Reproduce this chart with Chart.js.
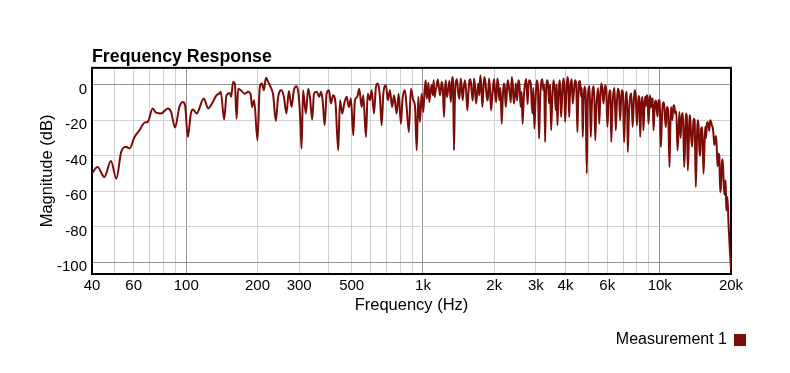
<!DOCTYPE html>
<html>
<head>
<meta charset="utf-8">
<script src="https://cdn.jsdelivr.net/npm/chart.js@4.4.1/dist/chart.umd.min.js"></script>
<style>
  html, body { margin: 0; padding: 0; background: #fff; }
  #wrap { width: 790px; height: 373px; }
</style>
</head>
<body>
<div id="wrap"><canvas id="c" width="790" height="373"></canvas></div>
<script>
// frequency response, [Hz, dB]
var lowBand = [
  [40, -50], [42.2, -46.4], [45.1, -52], [48.1, -43], [50.7, -53], [53.1, -38], [55.7, -35], [57.6, -36],
  [60.5, -29.5], [63.5, -25.7], [66.7, -21.4], [68.8, -21], [72.2, -13.5], [74.6, -15.8], [78.3, -16.3],
  [83.6, -13.5], [86.3, -15.4], [89.7, -24.2], [93.6, -12.6], [96.7, -9.8], [98.9, -11.7]
];
var midBand = [
  [101.6, -29.5], [104.9, -15.4], [107, -14.1], [110.5, -16.3], [118.7, -7.9], [123.8, -13.5], [129.2, -10.1],
  [134.3, -6], [137.7, -5.1], [140, -4.1], [144.6, -19.7], [148, -6], [152.9, -4.7], [154.7, -6.9], [157.8, 1.5],
  [160.5, 0.6], [163.2, -19.2], [165.8, -2.3], [171.3, -3.6], [177, -5.1], [182.7, -4.1], [187, -5.4],
  [189.8, -12.6], [193.6, -8.8], [200, -31.4], [204.6, -1.3], [208.8, 0.6], [212.9, -3.2], [217.1, 3.9],
  [221.9, 1.5], [227.2, -1.3], [233, -6], [239.1, -20.5], [244.5, -6.9], [252.7, -3.2], [258.5, -6.9],
  [265.1, -16.3], [271.3, -3.6], [278.6, -12.6], [284.9, -3.2], [292.6, -0.9], [299, -6.9], [304, -22.9],
  [307, -36], [311.6, -3.2], [320, -16.3], [327.5, -2.3], [333, -6.9], [340.6, -19.7], [346.5, -5.1],
  [355.6, -4.1], [364.6, -6.9], [370.7, -4.1], [376.8, -8.8], [384.3, -22.9], [391.8, -5.1], [400.8, -3.2],
  [408.5, -10.7], [417.5, -6], [427.3, -10.7], [438.7, -37], [446.1, -8.8], [456.1, -16.3], [465.1, -10.7],
  [475.9, -6.9], [486.6, -12.6], [496.2, -7.9], [507.5, -28.5], [516, -8.8], [527.7, -6.9], [538, -2.3],
  [550.8, -12.6], [559.5, -6], [574.5, -29.5], [584, -5.1], [597.2, -8.8], [607, -3.2], [621, -16.3],
  [633, -1.3], [645.6, 0.6], [658, -6.9], [669, -22.9], [680, -5.1], [697.4, -0.4], [711, -8.8], [725, -3.2],
  [741, -12.6], [755, -6], [774, -16.3], [789, -5.1], [807, -22], [820, -7.9], [839, -3.2], [853, -12.6],
  [872, -26.7], [889, -2.3], [910, -8.8], [925, -12], [941, -37], [955, -6.9], [971, -21], [987, -5.1]
];
var highBand = [
  [1003, -15.4], [1015, -4], [1027, 2.4], [1037, -8], [1047, -3.2], [1055, 1], [1063, -9.8], [1075, -4],
  [1088, -0.4], [1099, -6], [1110, 2.4], [1120, -7], [1131, -3.2], [1142, -1], [1154, 2.8], [1167, -1],
  [1180, -6], [1190, -3], [1200, 1.5], [1213, -2], [1227, -18.2], [1237, -5], [1247, 2.4], [1263, -7],
  [1279, -2.3], [1294, 2], [1310, -9.8], [1320, -3], [1330, 4.3], [1341, -1], [1352, -37], [1363, -10],
  [1374, 0.6], [1392, 3], [1410, -5.1], [1426, -8], [1443, 3.4], [1457, -1], [1471, -8.8], [1487, -2],
  [1504, 2.4], [1521, -3], [1539, -14.5], [1554, -6], [1569, 1.5], [1587, 3], [1606, -4.1], [1624, -9],
  [1643, 3.4], [1659, -1], [1675, -10.7], [1694, -5], [1713, 0.6], [1730, -6], [1747, 5.3], [1764, -1],
  [1781, -12.6], [1798, -4], [1816, 4.3], [1837, 1], [1859, -6.9], [1879, -9], [1900, 3.4], [1919, -2],
  [1939, -14.5], [1961, -7], [1983, 0.6], [1999, 3], [2016, -5.1], [2038, -10], [2061, 3.4], [2081, 0],
  [2102, -8.8], [2126, -2], [2150, -22], [2172, -8], [2194, 0.6], [2215, -1], [2236, -12.6], [2258, -6],
  [2280, 2.4], [2305, -1], [2330, -6], [2350, -10], [2370, 4.3], [2395, 0], [2420, -10.7], [2445, -6],
  [2470, 0.6], [2498, -9], [2527, 2.4], [2556, 0], [2585, -12.6], [2610, -4], [2635, -22], [2667, -7],
  [2700, 0.6], [2732, 3], [2765, -11], [2785, -3], [2806, 2.4], [2850, 1], [2897, -16.3], [2926, -2],
  [2955, -24.8], [2989, -9], [3023, 2.4], [3058, -1], [3093, -30.4], [3124, -8], [3155, 0.6], [3190, 3],
  [3225, -3.2], [3252, 0], [3280, -32.3], [3307, -6], [3335, 2.4], [3372, 1], [3410, -10.7], [3444, 0],
  [3478, -25.7], [3517, -8], [3556, 2.4], [3597, -2], [3638, -14.5], [3667, 0], [3697, -22.9], [3732, -7],
  [3768, 2.4], [3799, -1], [3830, -18.2], [3874, -6], [3918, 3.4], [3951, 0], [3985, -21], [4030, -5],
  [4075, 4.3], [4109, 1], [4143, -18.2], [4175, -6], [4208, 0.6], [4249, 3], [4290, -10.7], [4340, -4],
  [4390, 2.4], [4440, 0], [4490, -26.7], [4527, -8], [4565, 1.5], [4610, 2], [4655, -6.9], [4692, -2],
  [4730, -29.5], [4767, -10], [4805, -1.3], [4861, -4], [4918, -50.1], [4956, -14], [4995, -3.2], [5055, -1],
  [5115, -29.5], [5165, -12], [5215, -2.3], [5277, -1], [5340, -31.4], [5397, -13], [5455, -5.1], [5502, -2],
  [5550, -22], [5605, -9], [5660, 0.6], [5722, -2], [5785, -10.7], [5832, -6], [5880, -0.4], [5945, -3],
  [6010, -23.8], [6075, -11], [6140, -3.2], [6190, -4], [6240, -32.3], [6305, -14], [6370, -5.1], [6445, -2],
  [6520, -25.7], [6585, -12], [6650, -2.3], [6725, -4], [6800, -20.1], [6857, -11], [6915, -3.2], [6992, -5],
  [7070, -32.3], [7140, -15], [7210, -5.1], [7270, -4], [7330, -37.9], [7415, -16], [7500, -6.9], [7590, -5],
  [7680, -23.8], [7755, -13], [7830, -3.2], [7920, -6], [8010, -23], [8075, -14], [8140, -6.5], [8205, -8],
  [8270, -29.5], [8335, -16], [8400, -8.8], [8465, -7], [8530, -25.7], [8600, -15], [8670, -6.9], [8740, -12],
  [8810, -6], [8885, -7], [8960, -22], [9030, -14], [9100, -6], [9180, -13], [9260, -7.9], [9335, -8],
  [9410, -25.7], [9485, -17], [9560, -9.8], [9640, -9], [9720, -14.5], [9795, -18], [9870, -8.8], [9990, -9],
  [10110, -35.1], [10210, -20], [10310, -10.7], [10425, -10], [10540, -20.1], [10625, -24], [10710, -12.6],
  [10850, -14], [10990, -46.4], [11080, -26], [11170, -12.6], [11300, -20], [11430, -11.6], [11525, -12],
  [11620, -16.3], [11750, -15], [11880, -37], [11995, -28], [12110, -15.4], [12250, -30], [12400, -17.3],
  [12540, -16], [12680, -46.4], [12785, -35], [12890, -16.3], [13015, -18], [13140, -48.3], [13245, -36],
  [13350, -17.3], [13460, -19], [13570, -29.5], [13725, -35], [13880, -19.2], [14040, -20], [14200, -57.7],
  [14315, -40], [14430, -20.1], [14570, -22], [14710, -37], [14835, -40], [14960, -24.8], [15130, -24],
  [15300, -50.1], [15430, -38], [15560, -23.8], [15690, -30], [15820, -22], [15940, -21], [16060, -22.9],
  [16195, -26], [16330, -20.1], [16465, -21], [16600, -22.9], [16730, -24], [16860, -27.6], [17000, -34],
  [17150, -30.4], [17290, -29], [17430, -37], [17560, -46], [17700, -38.9], [17850, -40], [18000, -60.5],
  [18150, -57], [18300, -44.5], [18440, -42], [18590, -52], [18750, -62], [18900, -55.8], [19000, -54],
  [19090, -70.8], [19330, -63.2], [19520, -78.3], [19710, -89.6], [20000, -104]
];
var seriesName = 'Measurement 1';

// gridlines and which of them carry a label
var xGridValues = [40, 50, 60, 70, 80, 90, 100, 200, 300, 400, 500, 600, 700, 800, 900,
  1000, 2000, 3000, 4000, 5000, 6000, 7000, 8000, 9000, 10000, 20000];
var xMajorValues = [100, 1000, 10000];
var xTickValues = [40, 60, 100, 200, 300, 500, 1000, 2000, 3000, 4000, 6000, 10000, 20000];
var xTickLabels = ['40', '60', '100', '200', '300', '500', '1k', '2k', '3k', '4k', '6k', '10k', '20k'];
var yGridValues = [-100, -90, -80, -70, -60, -50, -40, -30, -20, -10, 0];
var yMajorValues = [-100, 0];
var yTickValues = [-100, -80, -60, -40, -20, 0];

var FONT = "'Liberation Sans', Arial, Helvetica, sans-serif";
var LINE_COLOR = '#7b0c07';

var points = lowBand.concat(midBand, highBand).map(function (p) { return { x: p[0], y: p[1] }; });

// black frame round the plot area
var framePlugin = {
  id: 'frame',
  beforeDatasetsDraw: function (chart) {
    var a = chart.chartArea, ctx = chart.ctx;
    ctx.save();
    ctx.strokeStyle = '#000';
    ctx.lineWidth = 2;
    ctx.strokeRect(a.left, a.top, a.right - a.left, a.bottom - a.top);
    ctx.restore();
  }
};

Chart.defaults.color = '#000';
Chart.defaults.font.family = FONT;

new Chart(document.getElementById('c'), {
  type: 'line',
  data: {
    datasets: [{
      label: seriesName,
      data: points,
      borderColor: LINE_COLOR,
      backgroundColor: LINE_COLOR,
      borderWidth: 2,
      pointRadius: 0,
      cubicInterpolationMode: 'monotone'
    }]
  },
  options: {
    responsive: false,
    animation: false,
    layout: { padding: { left: 0, right: 35, top: 0, bottom: 15 } },
    plugins: {
      title: {
        display: true,
        text: 'Frequency Response',
        align: 'start',
        fullSize: false,
        color: '#000',
        font: { size: 17.8, weight: 'bold', family: FONT },
        padding: { top: 46.5, bottom: 0 }
      },
      legend: {
        position: 'bottom',
        align: 'start',
        rtl: true,
        labels: {
          boxWidth: 10,
          boxHeight: 10,
          padding: 10,
          color: '#000',
          font: { size: 16, family: FONT }
        }
      },
      tooltip: { enabled: false }
    },
    scales: {
      x: {
        type: 'logarithmic',
        min: 40,
        max: 20000,
        afterBuildTicks: function (axis) {
          axis.ticks = xGridValues.map(function (v) { return { value: v }; });
        },
        afterFit: function (scale) { scale.height = 48; },
        grid: {
          drawTicks: false,
          color: function (ctx) {
            return xMajorValues.indexOf(ctx.tick.value) >= 0 ? '#939393' : '#d0d0d0';
          },
          lineWidth: 1
        },
        border: { display: false },
        ticks: {
          autoSkip: false,
          maxRotation: 0,
          padding: 3,
          font: { size: 15, family: FONT },
          callback: function (value) {
            var k = xTickValues.indexOf(value);
            return k >= 0 ? xTickLabels[k] : '';
          }
        },
        title: {
          display: true,
          text: 'Frequency (Hz)',
          font: { size: 16.5, family: FONT },
          padding: { top: 0, bottom: 7 }
        }
      },
      y: {
        type: 'linear',
        position: 'left',
        min: -106.6,
        max: 9.4,
        afterBuildTicks: function (axis) {
          axis.ticks = yGridValues.map(function (v) { return { value: v }; });
        },
        afterFit: function (scale) { scale.width = 92; },
        grid: {
          drawTicks: false,
          color: function (ctx) {
            return yMajorValues.indexOf(ctx.tick.value) >= 0 ? '#939393' : '#d0d0d0';
          },
          lineWidth: 1
        },
        border: { display: false },
        ticks: {
          padding: 5,
          labelOffset: 5,
          font: { size: 15, family: FONT },
          callback: function (value) {
            return yTickValues.indexOf(value) >= 0 ? String(value) : '';
          }
        },
        title: {
          display: true,
          text: 'Magnitude (dB)',
          font: { size: 16.5, family: FONT },
          padding: { top: 38, bottom: 0 }
        }
      },
      spacer: {
        type: 'linear',
        position: 'right',
        display: true,
        grid: { display: false, drawTicks: false },
        border: { display: false },
        ticks: { display: false },
        afterFit: function (scale) { scale.width = 24; }
      }
    }
  },
  plugins: [framePlugin]
});
</script>
</body>
</html>
